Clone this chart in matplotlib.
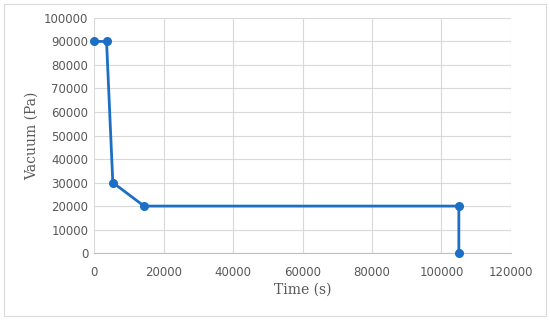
import matplotlib
matplotlib.use('Agg')
import matplotlib.pyplot as plt
from matplotlib.patches import Rectangle

# Data
time_s = [0, 3600, 5400, 14400, 105000, 105000]
vacuum_pa = [90000, 90000, 30000, 20000, 20000, 0]
x_ticks = [0, 20000, 40000, 60000, 80000, 100000, 120000]
y_ticks = [0, 10000, 20000, 30000, 40000, 50000, 60000, 70000, 80000, 90000, 100000]

grey_text = '#595959'
line_blue = '#1c6fc4'

fig = plt.figure(figsize=(5.5, 3.2), dpi=100)
ax = fig.add_axes((0.171, 0.209, 0.758, 0.735))

# light outer border like the Excel chart area
fig.patches.append(Rectangle((0.008, 0.012), 0.984, 0.976, transform=fig.transFigure,
                             fill=False, ec='#d9d9d9', lw=0.8))

ax.plot(time_s, vacuum_pa, '-o', color=line_blue, lw=2, markersize=5.5, zorder=3, clip_on=False)

ax.set_xlim(0, 120000)
ax.set_ylim(0, 100000)
ax.set_xticks(x_ticks)
ax.set_yticks(y_ticks)
ax.set_xticklabels([str(v) for v in x_ticks])
ax.set_yticklabels([str(v) for v in y_ticks])
ax.tick_params(length=0, labelsize=8.5, labelcolor=grey_text, pad=4)
ax.tick_params(axis='x', pad=9)

ax.grid(True, color='#d9d9d9', lw=0.8)
ax.set_axisbelow(True)
for side in ['top', 'right', 'left']:
    ax.spines[side].set_visible(False)
ax.spines['bottom'].set_color('#bfbfbf')
ax.spines['bottom'].set_linewidth(0.8)

ax.set_xlabel('Time (s)', family='DejaVu Serif', fontsize=10, color=grey_text, labelpad=3)
ax.set_ylabel('Vacuum (Pa)', family='DejaVu Serif', fontsize=10, color=grey_text, labelpad=4)

fig.savefig('out.png', dpi=100)
